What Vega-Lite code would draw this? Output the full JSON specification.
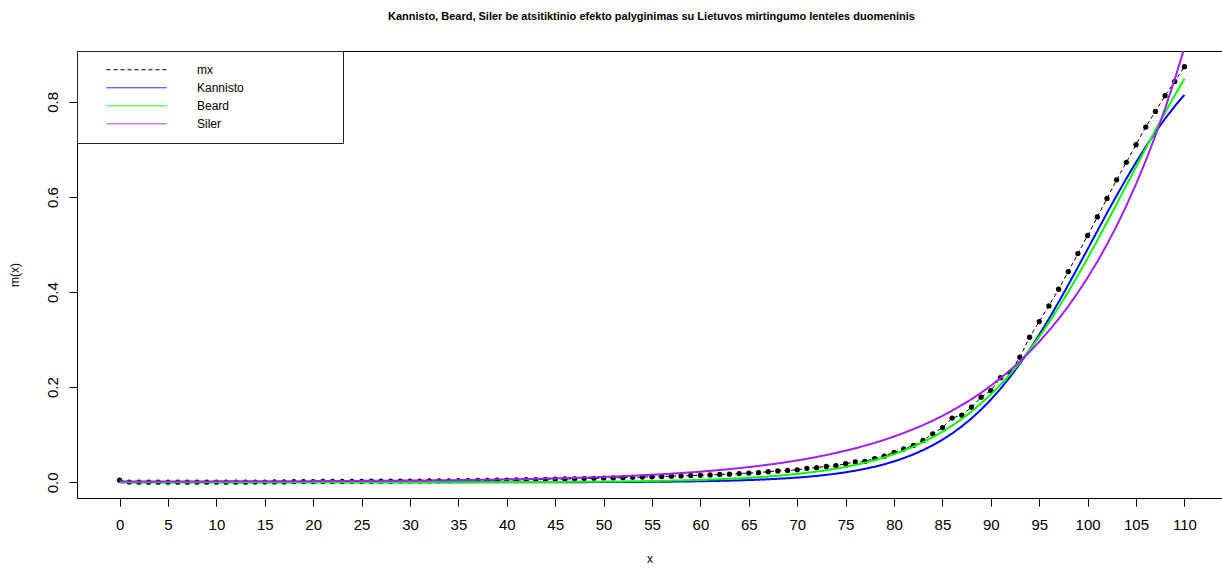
{
  "$schema": "https://vega.github.io/schema/vega-lite/v6.json",
  "width": 1145,
  "height": 447,
  "autosize": {"type": "none"},
  "padding": {"left": 77, "top": 51, "right": 0, "bottom": 70},
  "background": "white",
  "config": {
    "view": {"stroke": "#000", "strokeWidth": 1},
    "font": "Liberation Sans",
    "legend": {
      "orient": "top-left",
      "offset": 0,
      "padding": 10,
      "strokeColor": "#222",
      "fillColor": "#ffffff",
      "symbolType": "stroke",
      "symbolSize": 3600,
      "symbolStrokeWidth": 1,
      "symbolOffset": 19,
      "labelOffset": 30,
      "clipHeight": 17.5,
      "rowPadding": 0,
      "labelFont": "Liberation Sans",
      "labelFontSize": 12,
      "labelColor": "#000",
      "labelLimit": 400
    }
  },
  "title": {
    "text": "Kannisto, Beard, Siler be atsitiktinio efekto palyginimas su Lietuvos mirtingumo lenteles duomeninis",
    "font": "Liberation Sans",
    "fontSize": 11,
    "fontWeight": "bold",
    "color": "#000",
    "anchor": "middle",
    "offset": 29,
    "dx": 2
  },
  "data": {
    "values": [
      {"age": 0, "mx": 0.0045, "Kannisto": 0, "Beard": 0.00001, "Siler": 0.0017},
      {"age": 1, "mx": 0.0004, "Kannisto": 0, "Beard": 0.00001, "Siler": 0.0017},
      {"age": 2, "mx": 0.0003, "Kannisto": 0, "Beard": 0.00001, "Siler": 0.0018},
      {"age": 3, "mx": 0.0002, "Kannisto": 0, "Beard": 0.00001, "Siler": 0.0018},
      {"age": 4, "mx": 0.0002, "Kannisto": 0, "Beard": 0.00001, "Siler": 0.0018},
      {"age": 5, "mx": 0.0002, "Kannisto": 0, "Beard": 0.00001, "Siler": 0.0018},
      {"age": 6, "mx": 0.0002, "Kannisto": 0, "Beard": 0.00001, "Siler": 0.0019},
      {"age": 7, "mx": 0.0002, "Kannisto": 0, "Beard": 0.00001, "Siler": 0.0019},
      {"age": 8, "mx": 0.0002, "Kannisto": 0, "Beard": 0.00001, "Siler": 0.0019},
      {"age": 9, "mx": 0.0002, "Kannisto": 0, "Beard": 0.00001, "Siler": 0.0019},
      {"age": 10, "mx": 0.0002, "Kannisto": 0, "Beard": 0.00002, "Siler": 0.002},
      {"age": 11, "mx": 0.0002, "Kannisto": 0, "Beard": 0.00002, "Siler": 0.002},
      {"age": 12, "mx": 0.0002, "Kannisto": 0, "Beard": 0.00002, "Siler": 0.0021},
      {"age": 13, "mx": 0.0003, "Kannisto": 0, "Beard": 0.00002, "Siler": 0.0021},
      {"age": 14, "mx": 0.0004, "Kannisto": 0, "Beard": 0.00002, "Siler": 0.0021},
      {"age": 15, "mx": 0.0005, "Kannisto": 0, "Beard": 0.00002, "Siler": 0.0022},
      {"age": 16, "mx": 0.0007, "Kannisto": 0, "Beard": 0.00002, "Siler": 0.0023},
      {"age": 17, "mx": 0.0009, "Kannisto": 0, "Beard": 0.00002, "Siler": 0.0023},
      {"age": 18, "mx": 0.0015, "Kannisto": 0, "Beard": 0.00002, "Siler": 0.0024},
      {"age": 19, "mx": 0.0016, "Kannisto": 0, "Beard": 0.00002, "Siler": 0.0024},
      {"age": 20, "mx": 0.0015, "Kannisto": 0.00001, "Beard": 0.00003, "Siler": 0.0025},
      {"age": 21, "mx": 0.0018, "Kannisto": 0.00001, "Beard": 0.00004, "Siler": 0.0026},
      {"age": 22, "mx": 0.0019, "Kannisto": 0.00001, "Beard": 0.00004, "Siler": 0.0027},
      {"age": 23, "mx": 0.0019, "Kannisto": 0.00001, "Beard": 0.00005, "Siler": 0.0028},
      {"age": 24, "mx": 0.002, "Kannisto": 0.00001, "Beard": 0.00006, "Siler": 0.0029},
      {"age": 25, "mx": 0.0021, "Kannisto": 0.00001, "Beard": 0.00006, "Siler": 0.003},
      {"age": 26, "mx": 0.0022, "Kannisto": 0.00001, "Beard": 0.00007, "Siler": 0.0031},
      {"age": 27, "mx": 0.0023, "Kannisto": 0.00001, "Beard": 0.00008, "Siler": 0.0032},
      {"age": 28, "mx": 0.0024, "Kannisto": 0.00001, "Beard": 0.00009, "Siler": 0.0034},
      {"age": 29, "mx": 0.0025, "Kannisto": 0.00001, "Beard": 0.00011, "Siler": 0.0035},
      {"age": 30, "mx": 0.0026, "Kannisto": 0.00002, "Beard": 0.00012, "Siler": 0.0037},
      {"age": 31, "mx": 0.0027, "Kannisto": 0.00003, "Beard": 0.00014, "Siler": 0.0038},
      {"age": 32, "mx": 0.0029, "Kannisto": 0.00003, "Beard": 0.00016, "Siler": 0.004},
      {"age": 33, "mx": 0.003, "Kannisto": 0.00004, "Beard": 0.00018, "Siler": 0.0042},
      {"age": 34, "mx": 0.0032, "Kannisto": 0.00004, "Beard": 0.0002, "Siler": 0.0044},
      {"age": 35, "mx": 0.0034, "Kannisto": 0.00005, "Beard": 0.00023, "Siler": 0.0047},
      {"age": 36, "mx": 0.0037, "Kannisto": 0.00006, "Beard": 0.00026, "Siler": 0.0049},
      {"age": 37, "mx": 0.0039, "Kannisto": 0.00007, "Beard": 0.00029, "Siler": 0.0052},
      {"age": 38, "mx": 0.0042, "Kannisto": 0.00008, "Beard": 0.00033, "Siler": 0.0055},
      {"age": 39, "mx": 0.0045, "Kannisto": 0.00009, "Beard": 0.00037, "Siler": 0.0058},
      {"age": 40, "mx": 0.0048, "Kannisto": 0.00011, "Beard": 0.00042, "Siler": 0.0061},
      {"age": 41, "mx": 0.0051, "Kannisto": 0.00012, "Beard": 0.00048, "Siler": 0.0065},
      {"age": 42, "mx": 0.0055, "Kannisto": 0.00014, "Beard": 0.00054, "Siler": 0.0069},
      {"age": 43, "mx": 0.0058, "Kannisto": 0.00017, "Beard": 0.00061, "Siler": 0.0073},
      {"age": 44, "mx": 0.0062, "Kannisto": 0.00019, "Beard": 0.00069, "Siler": 0.0078},
      {"age": 45, "mx": 0.0066, "Kannisto": 0.00023, "Beard": 0.00078, "Siler": 0.0082},
      {"age": 46, "mx": 0.007, "Kannisto": 0.00026, "Beard": 0.00089, "Siler": 0.0088},
      {"age": 47, "mx": 0.0074, "Kannisto": 0.00031, "Beard": 0.00101, "Siler": 0.0093},
      {"age": 48, "mx": 0.0078, "Kannisto": 0.00036, "Beard": 0.00114, "Siler": 0.01},
      {"age": 49, "mx": 0.0083, "Kannisto": 0.00041, "Beard": 0.00129, "Siler": 0.0106},
      {"age": 50, "mx": 0.0088, "Kannisto": 0.00048, "Beard": 0.00146, "Siler": 0.0113},
      {"age": 51, "mx": 0.0093, "Kannisto": 0.00056, "Beard": 0.00166, "Siler": 0.0121},
      {"age": 52, "mx": 0.0098, "Kannisto": 0.00065, "Beard": 0.00188, "Siler": 0.0129},
      {"age": 53, "mx": 0.0104, "Kannisto": 0.00076, "Beard": 0.00213, "Siler": 0.0138},
      {"age": 54, "mx": 0.011, "Kannisto": 0.00088, "Beard": 0.00241, "Siler": 0.0148},
      {"age": 55, "mx": 0.0115, "Kannisto": 0.00103, "Beard": 0.00273, "Siler": 0.0159},
      {"age": 56, "mx": 0.0121, "Kannisto": 0.0012, "Beard": 0.00309, "Siler": 0.017},
      {"age": 57, "mx": 0.0128, "Kannisto": 0.00139, "Beard": 0.0035, "Siler": 0.0182},
      {"age": 58, "mx": 0.0134, "Kannisto": 0.00162, "Beard": 0.00396, "Siler": 0.0195},
      {"age": 59, "mx": 0.0141, "Kannisto": 0.00189, "Beard": 0.00449, "Siler": 0.0209},
      {"age": 60, "mx": 0.0149, "Kannisto": 0.0022, "Beard": 0.0051, "Siler": 0.0224},
      {"age": 61, "mx": 0.0156, "Kannisto": 0.00256, "Beard": 0.00577, "Siler": 0.0241},
      {"age": 62, "mx": 0.0165, "Kannisto": 0.00298, "Beard": 0.00653, "Siler": 0.0259},
      {"age": 63, "mx": 0.0172, "Kannisto": 0.00347, "Beard": 0.00739, "Siler": 0.0278},
      {"age": 64, "mx": 0.0184, "Kannisto": 0.00404, "Beard": 0.00837, "Siler": 0.0298},
      {"age": 65, "mx": 0.0195, "Kannisto": 0.0047, "Beard": 0.00947, "Siler": 0.032},
      {"age": 66, "mx": 0.0203, "Kannisto": 0.00548, "Beard": 0.0107, "Siler": 0.0344},
      {"age": 67, "mx": 0.0224, "Kannisto": 0.00637, "Beard": 0.01211, "Siler": 0.037},
      {"age": 68, "mx": 0.024, "Kannisto": 0.00742, "Beard": 0.01373, "Siler": 0.0398},
      {"age": 69, "mx": 0.025, "Kannisto": 0.00864, "Beard": 0.01557, "Siler": 0.0428},
      {"age": 70, "mx": 0.0262, "Kannisto": 0.00996, "Beard": 0.0176, "Siler": 0.046},
      {"age": 71, "mx": 0.0293, "Kannisto": 0.01157, "Beard": 0.0199, "Siler": 0.0495},
      {"age": 72, "mx": 0.0308, "Kannisto": 0.01345, "Beard": 0.0225, "Siler": 0.0533},
      {"age": 73, "mx": 0.0335, "Kannisto": 0.01562, "Beard": 0.0255, "Siler": 0.0574},
      {"age": 74, "mx": 0.035, "Kannisto": 0.01814, "Beard": 0.0287, "Siler": 0.0617},
      {"age": 75, "mx": 0.039, "Kannisto": 0.02106, "Beard": 0.0324, "Siler": 0.0665},
      {"age": 76, "mx": 0.0428, "Kannisto": 0.02443, "Beard": 0.0366, "Siler": 0.0716},
      {"age": 77, "mx": 0.044, "Kannisto": 0.02832, "Beard": 0.0413, "Siler": 0.0771},
      {"age": 78, "mx": 0.05, "Kannisto": 0.03283, "Beard": 0.0466, "Siler": 0.083},
      {"age": 79, "mx": 0.0552, "Kannisto": 0.03801, "Beard": 0.0526, "Siler": 0.0894},
      {"age": 80, "mx": 0.063, "Kannisto": 0.04398, "Beard": 0.0592, "Siler": 0.0963},
      {"age": 81, "mx": 0.07, "Kannisto": 0.05083, "Beard": 0.0667, "Siler": 0.1037},
      {"age": 82, "mx": 0.0775, "Kannisto": 0.05869, "Beard": 0.075, "Siler": 0.1117},
      {"age": 83, "mx": 0.088, "Kannisto": 0.06767, "Beard": 0.0844, "Siler": 0.1203},
      {"age": 84, "mx": 0.102, "Kannisto": 0.07792, "Beard": 0.0947, "Siler": 0.1297},
      {"age": 85, "mx": 0.115, "Kannisto": 0.08957, "Beard": 0.1063, "Siler": 0.1397},
      {"age": 86, "mx": 0.135, "Kannisto": 0.1027, "Beard": 0.1191, "Siler": 0.1506},
      {"age": 87, "mx": 0.141, "Kannisto": 0.1176, "Beard": 0.1332, "Siler": 0.1622},
      {"age": 88, "mx": 0.158, "Kannisto": 0.1343, "Beard": 0.1487, "Siler": 0.1748},
      {"age": 89, "mx": 0.179, "Kannisto": 0.153, "Beard": 0.1661, "Siler": 0.1884},
      {"age": 90, "mx": 0.193, "Kannisto": 0.1738, "Beard": 0.1849, "Siler": 0.2031},
      {"age": 91, "mx": 0.22, "Kannisto": 0.1968, "Beard": 0.2054, "Siler": 0.2189},
      {"age": 92, "mx": 0.231, "Kannisto": 0.2219, "Beard": 0.2278, "Siler": 0.236},
      {"age": 93, "mx": 0.263, "Kannisto": 0.2492, "Beard": 0.252, "Siler": 0.2543},
      {"age": 94, "mx": 0.305, "Kannisto": 0.2787, "Beard": 0.2781, "Siler": 0.2742},
      {"age": 95, "mx": 0.338, "Kannisto": 0.3103, "Beard": 0.306, "Siler": 0.2955},
      {"age": 96, "mx": 0.371, "Kannisto": 0.3438, "Beard": 0.3358, "Siler": 0.3186},
      {"age": 97, "mx": 0.406, "Kannisto": 0.3788, "Beard": 0.3674, "Siler": 0.3435},
      {"age": 98, "mx": 0.443, "Kannisto": 0.4152, "Beard": 0.4006, "Siler": 0.3703},
      {"age": 99, "mx": 0.481, "Kannisto": 0.4525, "Beard": 0.4354, "Siler": 0.3992},
      {"age": 100, "mx": 0.519, "Kannisto": 0.4904, "Beard": 0.4715, "Siler": 0.4304},
      {"age": 101, "mx": 0.558, "Kannisto": 0.5284, "Beard": 0.5087, "Siler": 0.464},
      {"age": 102, "mx": 0.597, "Kannisto": 0.5664, "Beard": 0.5468, "Siler": 0.5003},
      {"age": 103, "mx": 0.636, "Kannisto": 0.603, "Beard": 0.5855, "Siler": 0.5394},
      {"age": 104, "mx": 0.673, "Kannisto": 0.6387, "Beard": 0.6245, "Siler": 0.5816},
      {"age": 105, "mx": 0.71, "Kannisto": 0.673, "Beard": 0.6635, "Siler": 0.6271},
      {"age": 106, "mx": 0.747, "Kannisto": 0.7056, "Beard": 0.7022, "Siler": 0.6761},
      {"age": 107, "mx": 0.78, "Kannisto": 0.7361, "Beard": 0.7403, "Siler": 0.729},
      {"age": 108, "mx": 0.813, "Kannisto": 0.7646, "Beard": 0.7775, "Siler": 0.7861},
      {"age": 109, "mx": 0.843, "Kannisto": 0.7908, "Beard": 0.8137, "Siler": 0.8476},
      {"age": 110, "mx": 0.874, "Kannisto": 0.8149, "Beard": 0.8485, "Siler": 0.9139}
    ]
  },
  "layer": [
    {
      "transform": [{"fold": ["mx"], "as": ["series", "m"]}],
      "mark": {"type": "line", "strokeWidth": 1, "clip": true},
      "encoding": {
        "x": {
          "field": "age", "type": "quantitative", "title": "x",
          "scale": {"domain": [-4.4, 113.88], "nice": false, "zero": false},
          "axis": {
            "values": [0, 5, 10, 15, 20, 25, 30, 35, 40, 45, 50, 55, 60, 65, 70, 75, 80, 85, 90, 95, 100, 105, 110],
            "grid": false, "domain": false, "tickColor": "#000", "tickSize": 8,
            "labelFont": "Liberation Sans", "labelFontSize": 15, "labelColor": "#000", "labelPadding": 11,
            "labelFlush": false, "labelOverlap": false,
            "titleFont": "Liberation Sans", "titleFontSize": 12, "titleFontWeight": "normal", "titleColor": "#000", "titlePadding": 21
          }
        },
        "y": {
          "field": "m", "type": "quantitative", "title": "m(x)",
          "scale": {"domain": [-0.033, 0.907], "nice": false, "zero": false},
          "axis": {
            "values": [0, 0.2, 0.4, 0.6, 0.8], "format": ".1f",
            "grid": false, "domain": false, "tickColor": "#000", "tickSize": 8,
            "labelAngle": -90, "labelAlign": "center", "labelBaseline": "bottom",
            "labelFont": "Liberation Sans", "labelFontSize": 15, "labelColor": "#000", "labelPadding": 9,
            "labelFlush": false, "labelOverlap": false,
            "titleFont": "Liberation Sans", "titleFontSize": 12, "titleFontWeight": "normal", "titleColor": "#000", "titlePadding": 24
          }
        },
        "color": {
          "field": "series", "type": "nominal",
          "scale": {"domain": ["mx", "Kannisto", "Beard", "Siler"], "range": ["#000000", "#0000FF", "#00FF00", "#A020F0"]},
          "legend": {
            "title": null,
            "labelExpr": "datum.label + '                        \u2800'",
            "encode": {"symbols": {"update": {"strokeWidth": {"value": 1}}}}
          }
        },
        "strokeDash": {
          "field": "series", "type": "nominal",
          "scale": {"domain": ["mx", "Kannisto", "Beard", "Siler"], "range": [[4, 3], [1, 0], [1, 0], [1, 0]]},
          "legend": {
            "title": null,
            "labelExpr": "datum.label + '                        \u2800'",
            "encode": {"symbols": {"update": {"strokeWidth": {"value": 1}}}}
          }
        }
      }
    },
    {
      "mark": {"type": "circle", "size": 28, "color": "#000", "opacity": 1, "clip": true},
      "encoding": {
        "x": {"field": "age", "type": "quantitative"},
        "y": {"field": "mx", "type": "quantitative", "title": "m(x)"}
      }
    },
    {
      "transform": [{"fold": ["Kannisto", "Beard", "Siler"], "as": ["series", "m"]}],
      "mark": {"type": "line", "strokeWidth": 2, "clip": true},
      "encoding": {
        "x": {"field": "age", "type": "quantitative"},
        "y": {"field": "m", "type": "quantitative", "title": "m(x)"},
        "color": {
          "field": "series", "type": "nominal",
          "legend": {
            "title": null,
            "labelExpr": "datum.label + '                        \u2800'",
            "encode": {"symbols": {"update": {"strokeWidth": {"value": 1}}}}
          }
        },
        "strokeDash": {
          "field": "series", "type": "nominal",
          "legend": {
            "title": null,
            "labelExpr": "datum.label + '                        \u2800'",
            "encode": {"symbols": {"update": {"strokeWidth": {"value": 1}}}}
          }
        }
      }
    }
  ]
}
